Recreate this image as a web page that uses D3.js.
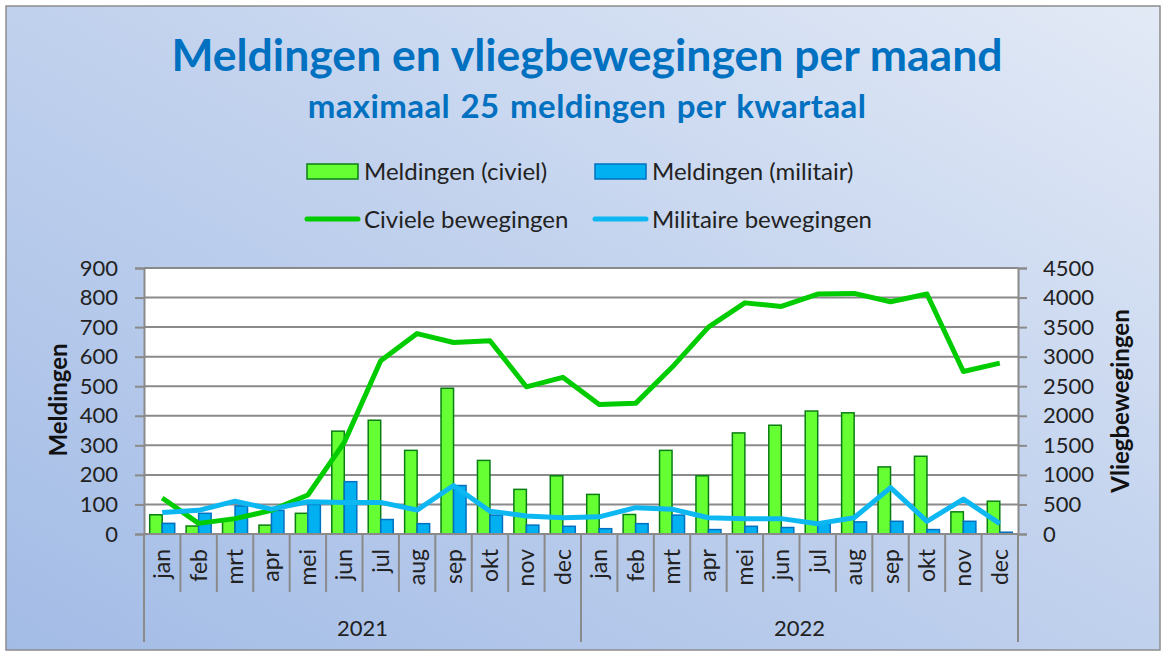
<!DOCTYPE html>
<html>
<head>
<meta charset="utf-8">
<script src="https://cdn.jsdelivr.net/npm/d3@7"></script>
<style>
  body { margin: 0; background: #fff; }
  svg { display: block; font-family: Lato, "Open Sans", sans-serif; }
</style>
</head>
<body>
<svg id="chart"></svg>
<script>
// Data
const years = ["2021", "2022"];
const months = ["jan", "feb", "mrt", "apr", "mei", "jun", "jul", "aug", "sep", "okt", "nov", "dec"];
const meldingenCiviel = [65, 27, 50, 30, 70, 348, 385, 283, 493, 249, 151, 197,
                         134, 66, 283, 197, 342, 368, 416, 410, 227, 263, 75, 111];
const meldingenMilitair = [36, 70, 95, 80, 100, 177, 49, 35, 164, 64, 30, 26,
                           18, 35, 64, 15, 26, 22, 35, 41, 43, 15, 43, 6];
const civieleBewegingen = [610, 180, 260, 400, 660, 1550, 2930, 3390, 3240, 3270, 2490, 2650,
                           2190, 2210, 2820, 3500, 3910, 3850, 4060, 4070, 3930, 4060, 2750, 2890];
const militaireBewegingen = [365, 400, 555, 420, 545, 535, 535, 405, 820, 385, 305, 275,
                             290, 445, 420, 275, 260, 260, 175, 275, 785, 215, 590, 175];
const leftTicks = [0, 100, 200, 300, 400, 500, 600, 700, 800, 900];
const rightTicks = [0, 500, 1000, 1500, 2000, 2500, 3000, 3500, 4000, 4500];

const width = 1165, height = 653;
const margin = { left: 144, right: 1018, top: 268, bottom: 534 };

const svg = d3.select("#chart").attr("width", width).attr("height", height);

// Achtergrond met verloop
const defs = svg.append("defs");
const grad = defs.append("linearGradient").attr("id", "bg")
  .attr("x1", "0%").attr("y1", "100%").attr("x2", "100%").attr("y2", "0%");
grad.append("stop").attr("offset", "0%").attr("stop-color", "#a3bce6");
grad.append("stop").attr("offset", "55%").attr("stop-color", "#c3d3ee");
grad.append("stop").attr("offset", "100%").attr("stop-color", "#e3eaf6");

svg.append("rect").attr("x", 6).attr("y", 6).attr("width", 1154).attr("height", 644)
  .attr("fill", "url(#bg)").attr("stroke", "#8c8c8c").attr("stroke-width", 1.5);

// Schalen
const cats = [];
years.forEach(y => months.forEach(m => cats.push(y + "-" + m)));

const x = d3.scaleBand().domain(cats).range([margin.left, margin.right]);
const yL = d3.scaleLinear().domain([0, 900]).range([margin.bottom, margin.top]);
const yR = d3.scaleLinear().domain([0, 4500]).range([margin.bottom, margin.top]);

// Plotgebied
svg.append("rect").attr("x", margin.left).attr("y", margin.top)
  .attr("width", margin.right - margin.left).attr("height", margin.bottom - margin.top)
  .attr("fill", "#fff");

// Rasterlijnen
svg.append("g").selectAll("line").data(leftTicks).enter().append("line")
  .attr("x1", margin.left).attr("x2", margin.right)
  .attr("y1", d => yL(d)).attr("y2", d => yL(d))
  .attr("stroke", "#8a8a8a").attr("stroke-width", 2);

// Linker as
const leftAxis = svg.append("g").attr("transform", `translate(${margin.left},0)`)
  .call(d3.axisLeft(yL).tickValues(leftTicks).tickSize(9).tickPadding(17));
leftAxis.select(".domain").attr("stroke", "#8a8a8a").attr("stroke-width", 2);
leftAxis.selectAll(".tick line").attr("stroke", "#8a8a8a").attr("stroke-width", 2);
leftAxis.selectAll("text").attr("font-size", 22).attr("fill", "#222")
  .attr("font-family", "Lato, sans-serif");

// Rechter as
const rightAxis = svg.append("g").attr("transform", `translate(${margin.right},0)`)
  .call(d3.axisRight(yR).tickValues(rightTicks).tickFormat(d3.format("d"))
    .tickSize(9).tickPadding(16));
rightAxis.select(".domain").attr("stroke", "#8a8a8a").attr("stroke-width", 2);
rightAxis.selectAll(".tick line").attr("stroke", "#8a8a8a").attr("stroke-width", 2);
rightAxis.selectAll("text").attr("font-size", 22).attr("fill", "#222")
  .attr("font-family", "Lato, sans-serif");

// Balken
const bw = 12.5;
const barG = svg.append("g");
barG.selectAll("rect.civ").data(meldingenCiviel).enter().append("rect")
  .attr("class", "civ")
  .attr("x", (d, i) => x(cats[i]) + x.bandwidth() / 2 - bw)
  .attr("y", d => yL(d))
  .attr("width", bw)
  .attr("height", d => yL(0) - yL(d))
  .attr("fill", "#66ff33").attr("stroke", "#0a7d14").attr("stroke-width", 1.5);
barG.selectAll("rect.mil").data(meldingenMilitair).enter().append("rect")
  .attr("class", "mil")
  .attr("x", (d, i) => x(cats[i]) + x.bandwidth() / 2)
  .attr("y", d => yL(d))
  .attr("width", bw)
  .attr("height", d => yL(0) - yL(d))
  .attr("fill", "#00b0f0").attr("stroke", "#0070c0").attr("stroke-width", 1.5);

// Lijnen
const line = d3.line()
  .x((d, i) => x(cats[i]) + x.bandwidth() / 2)
  .y(d => yR(d));
svg.append("path").datum(civieleBewegingen).attr("d", line)
  .attr("fill", "none").attr("stroke", "#00cc00").attr("stroke-width", 5)
  .attr("stroke-linejoin", "round");
svg.append("path").datum(militaireBewegingen).attr("d", line)
  .attr("fill", "none").attr("stroke", "#0db8f2").attr("stroke-width", 5)
  .attr("stroke-linejoin", "round");

// Onderkant: categorie-as
const axisColor = "#8a8a8a";
const catG = svg.append("g");
catG.append("line").attr("x1", margin.left).attr("x2", margin.right)
  .attr("y1", margin.bottom).attr("y2", margin.bottom)
  .attr("stroke", axisColor).attr("stroke-width", 2);
cats.forEach((c, i) => {
  if (i > 0 && i % 12 !== 0) {
    catG.append("line").attr("x1", x(c)).attr("x2", x(c))
      .attr("y1", margin.bottom).attr("y2", 592)
      .attr("stroke", axisColor).attr("stroke-width", 2);
  }
});
[0, 12, 24].forEach(i => {
  const xx = i < 24 ? x(cats[i]) : margin.right;
  catG.append("line").attr("x1", xx).attr("x2", xx)
    .attr("y1", margin.bottom).attr("y2", 642)
    .attr("stroke", axisColor).attr("stroke-width", 2);
});
catG.selectAll("text.month").data(cats).enter().append("text")
  .attr("class", "month")
  .attr("transform", d => `translate(${x(d) + x.bandwidth() / 2 + 8},549) rotate(-90)`)
  .attr("text-anchor", "end")
  .attr("font-size", 23).attr("fill", "#222")
  .text(d => d.split("-")[1]);
catG.selectAll("text.year").data(years).enter().append("text")
  .attr("class", "year")
  .attr("x", (d, i) => (x(cats[i * 12]) + (i === 0 ? x(cats[12]) : margin.right)) / 2)
  .attr("y", 636)
  .attr("text-anchor", "middle")
  .attr("font-size", 22).attr("fill", "#222")
  .text(d => d);

// As-titels
svg.append("text").attr("transform", "translate(67,400) rotate(-90)")
  .attr("text-anchor", "middle").attr("font-size", 24).attr("font-weight", "bold")
  .attr("fill", "#111").text("Meldingen");
svg.append("text").attr("transform", "translate(1129,401) rotate(-90)")
  .attr("text-anchor", "middle").attr("font-size", 24).attr("font-weight", "bold")
  .attr("fill", "#111").text("Vliegbewegingen");

// Titels
svg.append("text").attr("x", 587).attr("y", 71).attr("text-anchor", "middle")
  .attr("font-size", 44.5).attr("font-weight", "bold").attr("fill", "#0070c0")
  .text("Meldingen en vliegbewegingen per maand");
svg.append("text").attr("x", 587).attr("y", 118).attr("text-anchor", "middle")
  .attr("font-size", 33).attr("font-weight", "bold").attr("fill", "#0070c0")
  .attr("letter-spacing", 0.4).attr("word-spacing", 2)
  .text("maximaal 25 meldingen per kwartaal");

// Legenda
const legend = svg.append("g");
const legItems = [
  { label: "Meldingen (civiel)", type: "bar", fill: "#66ff33", stroke: "#0a7d14", x: 307, y: 171.5, ty: 180 },
  { label: "Meldingen (militair)", type: "bar", fill: "#00b0f0", stroke: "#0070c0", x: 595, y: 171.5, ty: 180 },
  { label: "Civiele bewegingen", type: "line", stroke: "#00cc00", x: 307, y: 219, ty: 228 },
  { label: "Militaire bewegingen", type: "line", stroke: "#0db8f2", x: 595, y: 219, ty: 228 }
];
legItems.forEach(d => {
  if (d.type === "bar") {
    legend.append("rect").attr("x", d.x).attr("y", d.y - 7.5).attr("width", 51).attr("height", 15)
      .attr("fill", d.fill).attr("stroke", d.stroke).attr("stroke-width", 1.5);
  } else {
    legend.append("line").attr("x1", d.x).attr("x2", d.x + 51).attr("y1", d.y).attr("y2", d.y)
      .attr("stroke", d.stroke).attr("stroke-width", 5).attr("stroke-linecap", "round");
  }
  legend.append("text").attr("x", d.x + 57).attr("y", d.ty)
    .attr("font-size", 24).attr("fill", "#222").text(d.label);
});
</script>
</body>
</html>
